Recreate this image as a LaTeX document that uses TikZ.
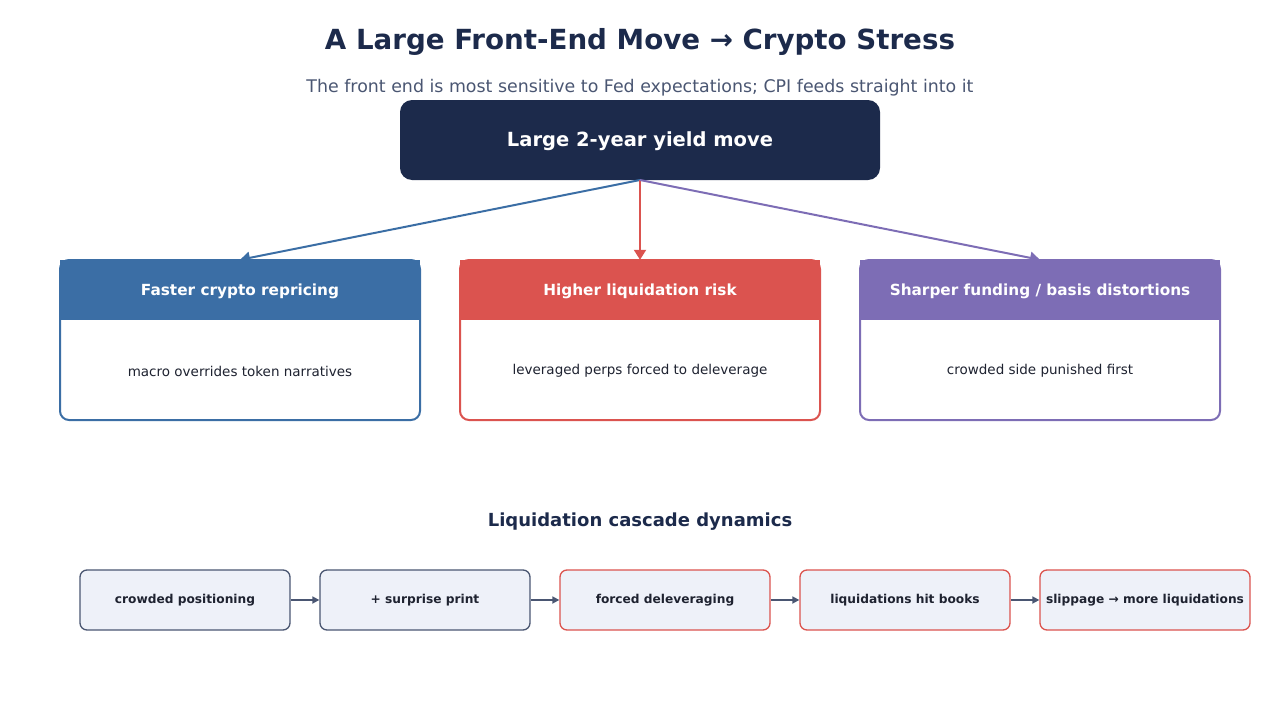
\documentclass[tikz,border=0pt]{standalone}
\usepackage{fontspec}
\setmainfont{DejaVu Sans}
\usetikzlibrary{arrows.meta}
\definecolor{navy}{HTML}{1C2A4B}
\definecolor{subgray}{HTML}{4A5672}
\definecolor{cblue}{HTML}{3B6EA5}
\definecolor{cred}{HTML}{DB534F}
\definecolor{cpurple}{HTML}{7D6DB5}
\definecolor{stepfill}{HTML}{EEF1F9}
\definecolor{stepgray}{HTML}{4A5672}
\definecolor{bodytext}{HTML}{1E2230}
\tikzset{
  card/.style={draw=#1, line width=2pt, rounded corners=9pt, fill=white, minimum width=360pt, minimum height=160pt, inner sep=0pt},
  cardhead/.style={fill=#1, minimum width=360pt, minimum height=60pt, inner sep=0pt},
  headtext/.style={text=white, font=\bfseries\fontsize{15.3}{18}\selectfont},
  cardbody/.style={text=bodytext, font=\fontsize{13.5}{16}\selectfont},
  flow/.style={draw=#1, line width=2pt, -{Triangle[length=10pt,width=12pt]}},
  stepbox/.style={draw=#1, line width=1.3pt, rounded corners=7pt, fill=stepfill, minimum width=210pt, minimum height=60pt, inner sep=0pt, text=bodytext, font=\bfseries\fontsize{12.2}{14}\selectfont},
  steparrow/.style={draw=stepgray, line width=1.6pt, -{Triangle[length=7pt,width=7pt]}}
}
\begin{document}
\begin{tikzpicture}[x=1pt,y=-1pt]
\useasboundingbox (0,0) rectangle (1280,720);
\node[text=navy, font=\bfseries\fontsize{27.7}{32}\selectfont] (title) at (640,42) {A Large Front-End Move → Crypto Stress};
\node[text=subgray, font=\fontsize{17.4}{20}\selectfont] (subtitle) at (640,88) {The front end is most sensitive to Fed expectations; CPI feeds straight into it};
\node[fill=navy, rounded corners=12pt, minimum width=480pt, minimum height=80pt, inner sep=0pt] (top) at (640,140) {};
\node[text=white, font=\bfseries\fontsize{19.5}{22}\selectfont] (toptext) at (640,141.5) {Large 2-year yield move};
\coordinate (src) at (640,180);
% cards
\foreach \n/\cx/\col/\head/\body in {a/240/cblue/{Faster crypto repricing}/{macro overrides token narratives},
  b/640/cred/{Higher liquidation risk}/{leveraged perps forced to deleverage},
  c/1040/cpurple/{Sharper funding / basis distortions}/{crowded side punished first}}{
  \node[card=\col] (\n) at (\cx,340) {};
  \node[cardhead=\col] (\n h) at (\cx,290) {};
  \node[headtext] (\n t) at (\cx,291.5) {\head};
  \node[cardbody] (\n b) at (\cx,371) {\body};
}
\draw[flow=cblue] (src) -- (ah.north);
\draw[flow=cred] (src) -- (bh.north);
\draw[flow=cpurple] (src) -- (ch.north);
\node[text=navy, font=\bfseries\fontsize{18}{21}\selectfont] (cascade) at (640,522) {Liquidation cascade dynamics};
\foreach \n/\cx/\col/\txt in {s1/185/stepgray/{crowded positioning}, s2/425/stepgray/{+ surprise print},
  s3/665/cred/{forced deleveraging}, s4/905/cred/{liquidations hit books}, s5/1145/cred/{slippage → more liquidations}}{
  \node[stepbox=\col] (\n) at (\cx,600) {\txt};
}
\draw[steparrow] (s1) -- (s2);
\draw[steparrow] (s2) -- (s3);
\draw[steparrow] (s3) -- (s4);
\draw[steparrow] (s4) -- (s5);
\end{tikzpicture}
\end{document}
